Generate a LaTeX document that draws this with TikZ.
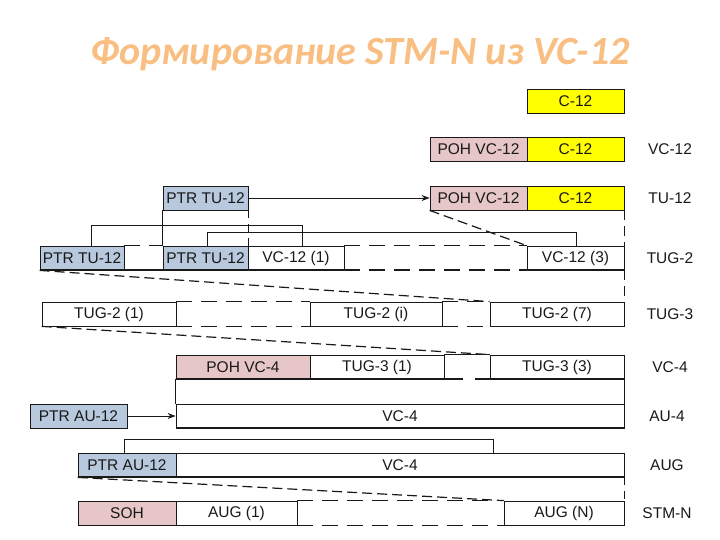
\documentclass[tikz,border=0pt]{standalone}
\usepackage{fontspec}
\setmainfont{Liberation Sans}
\newfontfamily\titlefont{Carlito}
\usetikzlibrary{arrows.meta}
\definecolor{ylw}{RGB}{255,255,0}
\definecolor{pnk}{RGB}{230,198,198}
\definecolor{blu}{RGB}{184,201,222}
\definecolor{ttl}{RGB}{249,190,130}
\definecolor{ln}{RGB}{25,25,25}
\begin{document}
\begin{tikzpicture}[x=1pt,y=-1pt,
  box/.style={draw=ln, line width=0.8pt, inner sep=0pt, minimum height=24pt, text=ln,
    font=\fontsize{15.5}{18}\selectfont},
  lbl/.style={inner sep=0pt, text=ln, font=\fontsize{15.5}{18}\selectfont},
  thk/.style={draw=ln, line width=2pt},
  dsh/.style={draw=ln, line width=0.8pt, dash pattern=on 16pt off 9pt},
  dshthk/.style={draw=ln, line width=2pt, dash pattern=on 16pt off 9pt},
  diag/.style={draw=ln, line width=1.2pt, dash pattern=on 10pt off 5pt},
  conn/.style={draw=ln, line width=0.8pt},
  arr/.style={draw=ln, line width=0.8pt, -{Stealth[length=8pt,width=6pt]}}]
\useasboundingbox (0,0) rectangle (720,540);

% title
\node[anchor=base, inner sep=0pt, text=ttl, font=\titlefont\bfseries\itshape\fontsize{40}{48}\selectfont] (title) at (360,65) {Формирование STM-N из VC-12};

% C-12
\node[box, fill=ylw, minimum width=97pt] (c12a) at (575.5,101) {C-12};
% VC-12
\node[box, fill=pnk, minimum width=97pt] (pohvc) at (478.5,149) {POH VC-12};
\node[box, fill=ylw, minimum width=97pt] (c12b) at (575.5,149) {C-12};
\node[lbl] (lvc12) at (670,149) {VC-12};
% TU-12
\node[box, fill=blu, minimum width=85pt] (ptrtu) at (205.5,198) {PTR TU-12};
\node[box, fill=pnk, minimum width=97pt] (pohtu) at (478.5,198) {POH VC-12};
\node[box, fill=ylw, minimum width=97pt] (c12c) at (575.5,198) {C-12};
\node[lbl] (ltu12) at (670,198) {TU-12};
% TUG-2
\node[box, fill=blu, minimum width=84pt] (ptr1) at (82,258) {PTR TU-12};
\node[box, fill=blu, minimum width=85pt] (ptr2) at (205.5,258) {PTR TU-12};
\node[box, minimum width=96pt] (vc1) at (296,258) {VC-12 (1)};
\node[box, minimum width=97pt] (vc3) at (575.5,258) {VC-12 (3)};
\node[lbl] (ltug2) at (670,258) {TUG-2};
% TUG-3
\node[box, minimum width=134pt] (t1) at (109,314) {TUG-2 (1)};
\node[box, minimum width=132pt] (ti) at (376,314) {TUG-2 (i)};
\node[box, minimum width=134pt] (t7) at (557,314) {TUG-2 (7)};
\node[lbl] (ltug3) at (670,314) {TUG-3};
% VC-4
\node[box, fill=pnk, minimum width=134pt] (pohvc4) at (243,367) {POH VC-4};
\node[box, minimum width=134pt] (tug31) at (377,367) {TUG-3 (1)};
\node[box, minimum width=134pt] (tug33) at (557,367) {TUG-3 (3)};
\node[lbl] (lvc4) at (670,367) {VC-4};
% AU-4
\node[box, fill=blu, minimum width=97pt] (ptrau1) at (78.5,416) {PTR AU-12};
\node[box, minimum width=448pt] (vc4a) at (400,416) {VC-4};
\node[lbl] (lau4) at (667,416) {AU-4};
% AUG
\node[box, fill=blu, minimum width=98pt] (ptrau2) at (127,465) {PTR AU-12};
\node[box, minimum width=448pt] (vc4b) at (400,465) {VC-4};
\node[lbl] (laug) at (667,465) {AUG};
% STM-N
\node[box, fill=pnk, minimum width=98pt] (soh) at (127,513) {SOH};
\node[box, minimum width=121pt] (aug1) at (236.5,513) {AUG (1)};
\node[box, minimum width=120pt] (augn) at (564,513) {AUG (N)};
\node[lbl] (lstm) at (667,513) {STM-N};

% arrows
\draw[arr] (ptrtu.east) -- (pohtu.west);
\draw[arr] (ptrau1.east) -- (vc4a.west);

% TUG-2 row lines
\draw[thk] (ptr1.south west) -- (vc1.south east);
\draw[dshthk] (vc1.south east) -- (vc3.south west);
\draw[thk] (vc3.south west) -- (vc3.south east);
\draw[dsh] (ptr1.north east) -- (ptr2.north west);
\draw[dsh] (vc1.north east) -- (vc3.north west);
% TUG-3 row gaps
\draw[dsh] (t1.north east) -- (ti.north west);
\draw[dsh] (t1.south east) -- (ti.south west);
\draw[dsh] (ti.north east) -- (t7.north west);
\draw[dsh] (ti.south east) -- (t7.south west);
% VC-4 row
\draw[conn] (tug31.north east) -- (tug33.north west);
\draw[thk] (pohvc4.south west) -- ([xshift=19pt]tug31.south east);
\draw[thk] ([xshift=-15pt]tug33.south west) -- (tug33.south east);
% AU-4 and AUG bottoms
\draw[thk] (vc4a.south west) -- (vc4a.south east);
\draw[thk] (ptrau2.south west) -- (vc4b.south east);
% STM-N gap
\draw[dsh] (aug1.north east) -- (augn.north west);
\draw[dsh, line width=1.2pt] (aug1.south east) -- (augn.south west);

% brackets
\draw[conn] ([xshift=9pt]ptr1.north) -- ++(0,-20) -| ([xshift=6pt]vc1.north);
\draw[conn] ([xshift=1.5pt]ptr2.north) -- ++(0,-13) -| ([xshift=0.5pt]vc3.north);
\draw[conn] ([xshift=-3pt]ptrau2.north) -- ++(0,-13) -| ([xshift=93pt]vc4b.north);

% verticals
\draw[conn] (ptrtu.south west) -- (ptr2.north west);
\draw[dsh, dash pattern=on 8pt off 6pt] (ptrtu.south east) -- (ptr2.north east);
\draw[dsh, line width=1.2pt, dash pattern=on 10pt off 6pt] (c12c.south east) -- (vc3.north east);
\draw[dsh, line width=1.2pt, dash pattern=on 10pt off 6pt] (vc3.south east) -- (t7.north east);
\draw[conn] (pohvc4.south west) -- (vc4a.north west);
\draw[conn, line width=1.2pt] (tug33.south east) -- (vc4a.north east);
\draw[dsh, line width=1.2pt, dash pattern=on 8pt off 6pt] (vc4b.south east) -- (augn.north east);

% diagonals
\draw[diag] (pohtu.south west) -- (vc3.north west);
\draw[diag] (ptr1.south west) -- (t7.north west);
\draw[diag] (t1.south west) -- (tug33.north west);
\draw[diag] (ptrau2.south west) -- (augn.north west);
\end{tikzpicture}
\end{document}
